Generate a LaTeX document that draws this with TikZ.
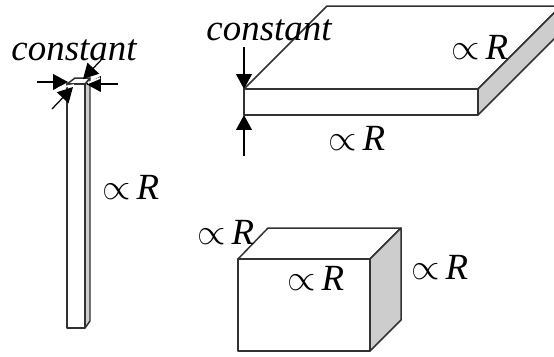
\documentclass[tikz,border=0pt]{standalone}
\usepackage{fontspec}
\setmainfont{Liberation Serif}
\usepackage{xcolor}
\usepackage{amsmath}
\usetikzlibrary{arrows.meta}
\definecolor{myedge}{RGB}{50,50,50}
\definecolor{myside}{RGB}{205,205,205}
\newcommand{\propR}{$\propto$\hspace{3pt}\textit{R}}
\tikzset{
  edge/.style={draw=myedge, line width=0.85pt, line join=round},
  sideface/.style={edge, fill=myside},
  topface/.style={edge, fill=white},
  dimline/.style={-{Triangle[length=8.5pt, width=9pt]}, color=black, line width=0.7pt},
  halo/.style={color=white, line width=1pt},
  biglabel/.style={font=\fontsize{21}{25}\selectfont, inner sep=0pt, text=black},
  constlabel/.style={biglabel, font=\fontsize{21}{25}\selectfont\itshape}
}
\begin{document}
\begin{tikzpicture}[x=0.02cm, y=-0.02cm]
  \useasboundingbox (0,0) rectangle (554,356);
  \clip (0,0) rectangle (554,356);

  % Corners of the thin bar
  \coordinate (barA) at (67,84);
  \coordinate (barB) at (85,84);
  \coordinate (barC) at (85,328);
  \coordinate (barD) at (67,328);
  \coordinate (barE) at (75,78);
  \coordinate (barF) at (90,78);
  \coordinate (barG) at (90,321);

  % Thin bar
  \draw[sideface] (barB) -- (barF) -- (barG) -- (barC) -- cycle;
  \draw[topface] (barA) -- (barE) -- (barF) -- (barB) -- cycle;
  \draw[topface] (barA) rectangle (barC);

  % Corners of the flat slab
  \coordinate (slabA) at (244,89);
  \coordinate (slabB) at (478,89);
  \coordinate (slabC) at (478,115);
  \coordinate (slabD) at (244,115);
  \coordinate (slabE) at (327,6);
  \coordinate (slabF) at (561,6);
  \coordinate (slabG) at (561,32);

  % Flat slab
  \draw[topface] (slabA) -- (slabE) -- (slabF) -- (slabB) -- cycle;
  \draw[sideface] (slabB) -- (slabF) -- (slabG) -- (slabC) -- cycle;
  \draw[topface] (slabA) rectangle (slabC);

  % Corners of the cube
  \coordinate (cubeA) at (238,259);
  \coordinate (cubeB) at (370,259);
  \coordinate (cubeC) at (370,351);
  \coordinate (cubeD) at (238,351);
  \coordinate (cubeE) at (268,228);
  \coordinate (cubeF) at (401,228);
  \coordinate (cubeG) at (401,320);

  % Cube
  \draw[topface] (cubeA) -- (cubeE) -- (cubeF) -- (cubeB) -- cycle;
  \draw[sideface] (cubeB) -- (cubeF) -- (cubeG) -- (cubeC) -- cycle;
  \draw[topface] (cubeA) rectangle (cubeC);

  % Free ends of the arrows
  \coordinate (barLeft) at (37,82);
  \coordinate (barLeftTip) at (68,82);
  \coordinate (barRight) at (118,84);
  \coordinate (barRightTip) at (86,84);
  \coordinate (barUp) at (103,58);
  \coordinate (barUpTip) at (83,79);
  \coordinate (barLow) at (52,109);
  \coordinate (barLowTip) at (73,87);
  \coordinate (slabUp) at (244,47);
  \coordinate (slabLow) at (244,156);

  % Arrows
  \draw[dimline] (barLeft) -- (barLeftTip);
  \draw[dimline] (barRight) -- (barRightTip);
  \draw[halo] (58,88) -- (74,85);
  \draw[halo] (88,83) -- (100,78);
  \draw[dimline] (barUp) -- (barUpTip);
  \draw[dimline] (barLow) -- (barLowTip);
  \draw[dimline] (slabUp) -- (slabA);
  \draw[dimline] (slabLow) -- (slabD);

  % Labels
  \node[constlabel] (barConst) at (74,50) {constant};
  \node[constlabel] (slabConst) at (269,30) {constant};
  \node[biglabel] (barLen) at (131,187) {\propR};
  \node[biglabel] (slabDepth) at (480,47) {\propR};
  \node[biglabel] (slabWidth) at (357,138) {\propR};
  \node[biglabel] (cubeDepth) at (226,232) {\propR};
  \node[biglabel] (cubeWidth) at (316,278) {\propR};
  \node[biglabel] (cubeHeight) at (440,267) {\propR};
\end{tikzpicture}
\end{document}
